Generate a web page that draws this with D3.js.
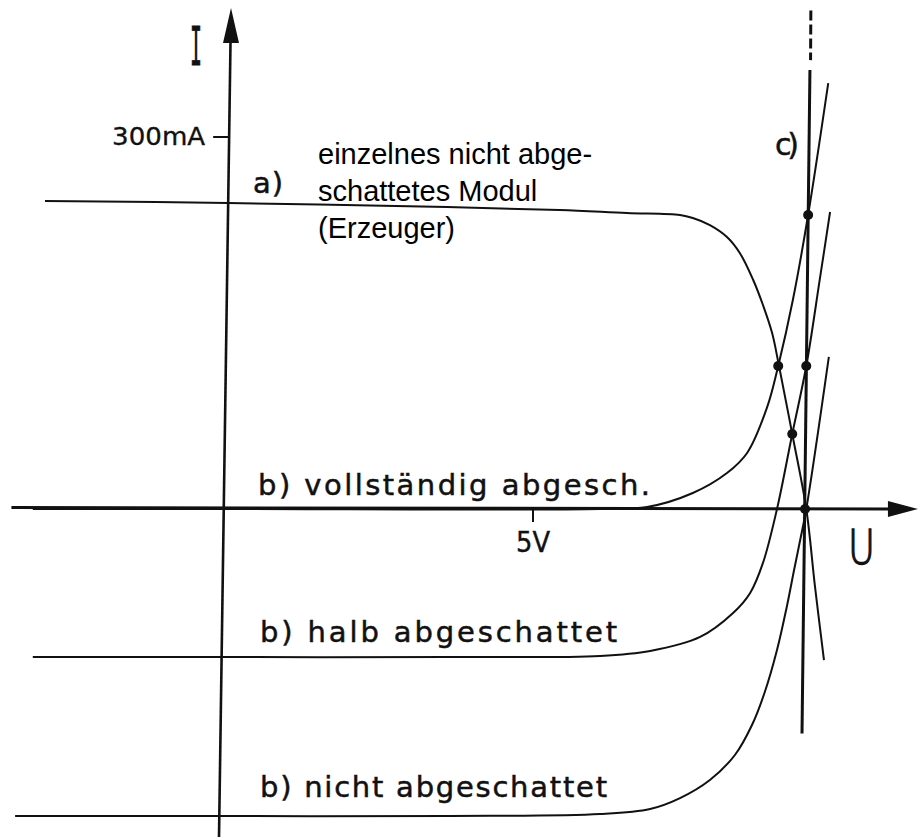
<!DOCTYPE html>
<html>
<head>
<meta charset="utf-8">
<script src="https://cdn.jsdelivr.net/npm/d3@7/dist/d3.min.js"></script>
<style>
  html, body { margin: 0; padding: 0; background: #fff; }
  svg { display: block; }
</style>
</head>
<body>
<script>
// I-U characteristics of a string with one unshaded generator module and a shaded module.
// Voltage U in volts, current I in mA.

// a) single unshaded module (generator)
const aU = [-3.0, 0, 3.59, 5.44, 6.54, 7.41, 7.62, 7.90, 8.18, 8.39, 8.61, 8.77, 8.92, 9.03, 9.25, 9.48, 9.62, 9.77];
const aI = [248.4, 246.8, 243.5, 241.1, 238.7, 237.1, 234.7, 229.0, 219.4, 206.5, 184.7, 164.5, 141.9, 116.1, 60.5, 0, -61.3, -121.8];

// b) second module, fully shaded
const bFullU = [-3.2, 0, 6.10, 6.87, 7.62, 8.18, 8.51, 8.84, 9.02, 9.26, 9.51, 9.84];
const bFullI = [0, 0, 0, 1.6, 12.9, 29.0, 45.2, 82.3, 115.3, 168.5, 237.1, 343.5];

// b) second module, half shaded
const bHalfU = [-3.2, 0, 3.64, 6.10, 6.92, 7.74, 8.28, 8.56, 8.77, 9.00, 9.25, 9.48, 9.70, 9.87];
const bHalfI = [-119.4, -119.4, -119.4, -118.5, -114.5, -103.2, -83.9, -67.7, -43.5, 0, 60.5, 115.3, 184.7, 239.5];

// b) second module, not shaded
const bNoneU = [-3.49, 0, 3.64, 6.10, 6.92, 7.41, 7.90, 8.31, 8.59, 8.80, 9.00, 9.16, 9.28, 9.38, 9.48, 9.85];
const bNoneI = [-247.6, -247.6, -247.6, -246.0, -241.9, -233.1, -218.5, -198.4, -174.2, -147.6, -113.7, -79.0, -49.2, -25.0, 0, 122.6];

// c) load line (solid part and dashed continuation)
const cU = [9.54, 9.41];
const cI = [354, -181];
const cDashU = [9.555, 9.55];
const cDashI = [402, 362];

// operating points (intersections)
const ptU = [9.02, 9.25, 9.48, 9.51, 9.46];
const ptI = [115.3, 60.5, 115.3, 237.1, 0];

// axis ticks
const xTickVals = [5];
const xTickLabels = ["5V"];
const yTickVals = [300];
const yTickLabels = ["300mA"];

// axis extents
const uMin = -3.55, uMax = 11.31;
const iMin = -265, iMax = 404;

const W = 918, H = 837;
const svg = d3.select("body").append("svg").attr("width", W).attr("height", H);

const x = d3.scaleLinear().domain([0, 5]).range([228, 533]);
const y = d3.scaleLinear().domain([0, 300]).range([509, 137]);

const zip = (us, is) => us.map((u, k) => ({u, i: is[k]}));
const line = d3.line().x(d => x(d.u)).y(d => y(d.i)).curve(d3.curveCatmullRom.alpha(0.5));
const straight = d3.line().x(d => x(d.u)).y(d => y(d.i));

const ink = "#111";
const hand = "'DejaVu Sans', 'Liberation Sans', sans-serif";

// vertical axis, drawn with a slight lean like the hand drawing
const yTopPx = y(iMax), yBotPx = y(iMin);
const axisX = py => x(0) + 3 - 12 * (py - yTopPx) / (yBotPx - yTopPx);
svg.append("line")
  .attr("x1", axisX(yTopPx + 30)).attr("y1", yTopPx + 30)
  .attr("x2", axisX(yBotPx)).attr("y2", yBotPx)
  .attr("stroke", ink).attr("stroke-width", 2.6);
svg.append("path")
  .attr("d", `M${axisX(yTopPx)},${yTopPx} L${axisX(yTopPx) - 8},${yTopPx + 35} L${axisX(yTopPx) + 8},${yTopPx + 35} Z`)
  .attr("fill", ink);

// horizontal axis
const x0 = x(uMin), x1 = x(uMax), yAx = y(0);
svg.append("line")
  .attr("x1", x0).attr("y1", yAx - 1.5).attr("x2", x1 - 25).attr("y2", yAx)
  .attr("stroke", ink).attr("stroke-width", 3);
svg.append("path")
  .attr("d", `M${x1},${yAx} L${x1 - 30},${yAx - 8} L${x1 - 30},${yAx + 8} Z`)
  .attr("fill", ink);

// ticks
xTickVals.forEach((v, k) => {
  svg.append("line").attr("x1", x(v)).attr("y1", yAx).attr("x2", x(v)).attr("y2", yAx + 13)
    .attr("stroke", ink).attr("stroke-width", 2);
  svg.append("text").attr("x", x(v)).attr("y", yAx + 43)
    .attr("text-anchor", "middle").attr("font-family", hand).attr("font-size", 28)
    .attr("textLength", 34).attr("lengthAdjust", "spacingAndGlyphs")
    .attr("fill", ink).attr("stroke", ink).attr("stroke-width", 0.4)
    .text(xTickLabels[k]);
});
yTickVals.forEach((v, k) => {
  const ax = axisX(y(v));
  svg.append("line").attr("x1", ax - 16).attr("y1", y(v)).attr("x2", ax).attr("y2", y(v))
    .attr("stroke", ink).attr("stroke-width", 2);
  svg.append("text").attr("x", ax - 117).attr("y", y(v) + 8)
    .attr("font-family", "'DejaVu Sans Condensed', 'DejaVu Sans', sans-serif").attr("font-size", 25)
    .attr("textLength", 93).attr("lengthAdjust", "spacingAndGlyphs")
    .attr("fill", ink).attr("stroke", ink).attr("stroke-width", 0.3)
    .text(yTickLabels[k]);
});

// axis names
svg.append("text").attr("x", 190).attr("y", 65)
  .attr("font-family", "'DejaVu Sans Mono', monospace").attr("font-size", 54)
  .attr("textLength", 12).attr("lengthAdjust", "spacingAndGlyphs")
  .attr("fill", ink).attr("stroke", ink).attr("stroke-width", 0.8)
  .text("I");
svg.append("text").attr("x", 848).attr("y", 564)
  .attr("font-family", hand).attr("font-size", 48).attr("font-weight", 200)
  .attr("textLength", 27).attr("lengthAdjust", "spacingAndGlyphs")
  .attr("fill", ink).attr("stroke", ink).attr("stroke-width", 1.4)
  .text("U");

// curves
const curves = [
  zip(aU, aI),
  zip(bFullU, bFullI),
  zip(bHalfU, bHalfI),
  zip(bNoneU, bNoneI)
];
svg.selectAll("path.curve").data(curves).join("path")
  .attr("class", "curve")
  .attr("d", line)
  .attr("fill", "none").attr("stroke", ink).attr("stroke-width", 2);

// load line c)
svg.append("path").attr("d", straight(zip(cU, cI)))
  .attr("fill", "none").attr("stroke", ink).attr("stroke-width", 3);
svg.append("path").attr("d", straight(zip(cDashU, cDashI)))
  .attr("fill", "none").attr("stroke", ink).attr("stroke-width", 3)
  .attr("stroke-dasharray", "10,4");

// operating points
svg.selectAll("circle.pt").data(zip(ptU, ptI)).join("circle")
  .attr("class", "pt")
  .attr("cx", d => x(d.u)).attr("cy", d => y(d.i)).attr("r", 5)
  .attr("fill", ink);

// curve labels
const labels = [
  {t: "a)", x: 253, y: 193, fs: 29, w: 30},
  {t: "c)", x: 775, y: 155, fs: 30, w: 24},
  {t: "b) vollständig abgesch.", x: 258, y: 495, fs: 29, w: 392},
  {t: "b) halb abgeschattet", x: 260, y: 642, fs: 29, w: 357},
  {t: "b) nicht abgeschattet", x: 260, y: 797, fs: 29, w: 347}
];
labels.forEach(l => {
  svg.append("text").attr("x", l.x).attr("y", l.y)
    .attr("font-family", hand).attr("font-size", l.fs)
    .attr("textLength", l.w).attr("lengthAdjust", "spacing")
    .attr("fill", ink).attr("stroke", ink).attr("stroke-width", 0.5)
    .text(l.t);
});

// note on curve a)
const note = ["einzelnes nicht abge-", "schattetes Modul", "(Erzeuger)"];
note.forEach((t, k) => {
  svg.append("text").attr("x", 318).attr("y", 164 + k * 37)
    .attr("font-family", "'Liberation Sans', Arial, sans-serif").attr("font-size", 29)
    .attr("fill", "#000").text(t);
});
</script>
</body>
</html>
